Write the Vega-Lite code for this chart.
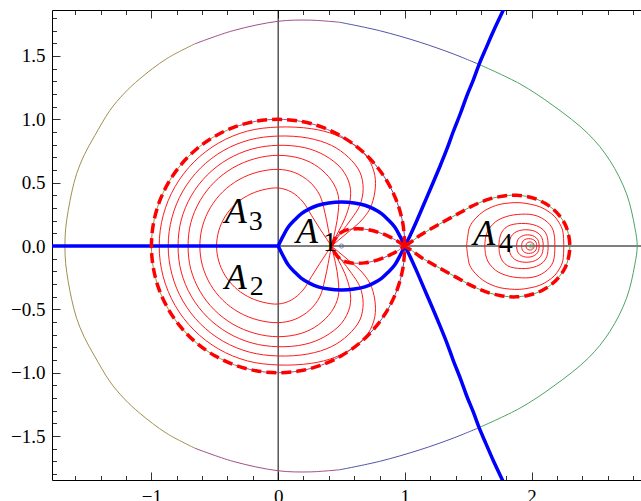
{
  "$schema": "https://vega.github.io/schema/vega-lite/v6.json",
  "width": 589,
  "height": 470,
  "autosize": {"type": "none"},
  "padding": {"left": 52, "top": 10, "right": 0, "bottom": 21},
  "background": "white",
  "config": {"view": {"stroke": null}},
  "datasets": {
    "thin": [
      {"s":"b1","h":"olive","x":-0.657,"y":-1.596},{"s":"b1","h":"olive","x":-0.881,"y":-1.478},{"s":"b1","h":"olive","x":-1.092,"y":-1.32},{"s":"b1","h":"olive","x":-1.22,"y":-1.2},{"s":"b1","h":"olive","x":-1.328,"y":-1.07},{"s":"b1","h":"olive","x":-1.447,"y":-0.872},{"s":"b1","h":"olive","x":-1.53,"y":-0.72},{"s":"b1","h":"olive","x":-1.591,"y":-0.57},{"s":"b1","h":"olive","x":-1.63,"y":-0.42},{"s":"b1","h":"olive","x":-1.657,"y":-0.28},{"s":"b1","h":"olive","x":-1.677,"y":-0.14},{"s":"b1","h":"olive","x":-1.683,"y":0},{"s":"b1","h":"olive","x":-1.677,"y":0.14},{"s":"b1","h":"olive","x":-1.657,"y":0.28},{"s":"b1","h":"olive","x":-1.63,"y":0.42},{"s":"b1","h":"olive","x":-1.591,"y":0.57},{"s":"b1","h":"olive","x":-1.53,"y":0.72},{"s":"b1","h":"olive","x":-1.447,"y":0.872},{"s":"b1","h":"olive","x":-1.328,"y":1.07},{"s":"b1","h":"olive","x":-1.22,"y":1.2},{"s":"b1","h":"olive","x":-1.092,"y":1.32},{"s":"b1","h":"olive","x":-0.881,"y":1.478},{"s":"b1","h":"olive","x":-0.657,"y":1.596},
      {"s":"b2","h":"purple","x":-0.657,"y":1.596},{"s":"b2","h":"purple","x":-0.355,"y":1.7},{"s":"b2","h":"purple","x":0,"y":1.774},{"s":"b2","h":"purple","x":0.25,"y":1.783},{"s":"b2","h":"purple","x":0.487,"y":1.766},
      {"s":"b3","h":"blue","x":0.487,"y":1.766},{"s":"b3","h":"blue","x":0.8,"y":1.7},{"s":"b3","h":"blue","x":1.118,"y":1.609},{"s":"b3","h":"blue","x":1.381,"y":1.517},{"s":"b3","h":"blue","x":1.587,"y":1.433},
      {"s":"b4","h":"green","x":1.587,"y":1.433},{"s":"b4","h":"green","x":1.908,"y":1.28},{"s":"b4","h":"green","x":2.17,"y":1.109},{"s":"b4","h":"green","x":2.447,"y":0.886},{"s":"b4","h":"green","x":2.618,"y":0.675},{"s":"b4","h":"green","x":2.75,"y":0.412},{"s":"b4","h":"green","x":2.815,"y":0.148},{"s":"b4","h":"green","x":2.834,"y":0},{"s":"b4","h":"green","x":2.815,"y":-0.148},{"s":"b4","h":"green","x":2.75,"y":-0.412},{"s":"b4","h":"green","x":2.618,"y":-0.675},{"s":"b4","h":"green","x":2.447,"y":-0.886},{"s":"b4","h":"green","x":2.17,"y":-1.109},{"s":"b4","h":"green","x":1.908,"y":-1.28},{"s":"b4","h":"green","x":1.587,"y":-1.433},
      {"s":"b5","h":"blue","x":1.587,"y":-1.433},{"s":"b5","h":"blue","x":1.381,"y":-1.517},{"s":"b5","h":"blue","x":1.118,"y":-1.609},{"s":"b5","h":"blue","x":0.8,"y":-1.7},{"s":"b5","h":"blue","x":0.487,"y":-1.766},
      {"s":"b6","h":"purple","x":0.487,"y":-1.766},{"s":"b6","h":"purple","x":0.25,"y":-1.783},{"s":"b6","h":"purple","x":0,"y":-1.774},{"s":"b6","h":"purple","x":-0.355,"y":-1.7},{"s":"b6","h":"purple","x":-0.657,"y":-1.596},
      {"s":"u1","h":"blue","x":0.5,"y":-0.866},{"s":"u1","h":"blue","x":0.643,"y":-0.766},{"s":"u1","h":"blue","x":0.766,"y":-0.643},{"s":"u1","h":"blue","x":0.866,"y":-0.5},{"s":"u1","h":"blue","x":0.94,"y":-0.342},{"s":"u1","h":"blue","x":0.985,"y":-0.174},{"s":"u1","h":"blue","x":1,"y":0},{"s":"u1","h":"blue","x":0.985,"y":0.174},{"s":"u1","h":"blue","x":0.94,"y":0.342},{"s":"u1","h":"blue","x":0.866,"y":0.5},{"s":"u1","h":"blue","x":0.766,"y":0.643},{"s":"u1","h":"blue","x":0.643,"y":0.766},{"s":"u1","h":"blue","x":0.5,"y":0.866},
      {"s":"u2","h":"purple","x":0.5,"y":0.866},{"s":"u2","h":"purple","x":0.342,"y":0.94},{"s":"u2","h":"purple","x":0.174,"y":0.985},{"s":"u2","h":"purple","x":0,"y":1},{"s":"u2","h":"purple","x":-0.174,"y":0.985},{"s":"u2","h":"purple","x":-0.342,"y":0.94},
      {"s":"u3","h":"olive","x":-0.342,"y":0.94},{"s":"u3","h":"olive","x":-0.5,"y":0.866},{"s":"u3","h":"olive","x":-0.643,"y":0.766},{"s":"u3","h":"olive","x":-0.766,"y":0.643},{"s":"u3","h":"olive","x":-0.866,"y":0.5},{"s":"u3","h":"olive","x":-0.94,"y":0.342},{"s":"u3","h":"olive","x":-0.985,"y":0.174},{"s":"u3","h":"olive","x":-1,"y":0},{"s":"u3","h":"olive","x":-0.985,"y":-0.174},{"s":"u3","h":"olive","x":-0.94,"y":-0.342},{"s":"u3","h":"olive","x":-0.866,"y":-0.5},{"s":"u3","h":"olive","x":-0.766,"y":-0.643},{"s":"u3","h":"olive","x":-0.643,"y":-0.766},{"s":"u3","h":"olive","x":-0.5,"y":-0.866},{"s":"u3","h":"olive","x":-0.342,"y":-0.94},
      {"s":"u4","h":"purple","x":-0.342,"y":-0.94},{"s":"u4","h":"purple","x":-0.174,"y":-0.985},{"s":"u4","h":"purple","x":0,"y":-1},{"s":"u4","h":"purple","x":0.174,"y":-0.985},{"s":"u4","h":"purple","x":0.342,"y":-0.94},{"s":"u4","h":"purple","x":0.5,"y":-0.866},
      {"s":"l1","h":"green","x":1,"y":0},{"s":"l1","h":"green","x":1.06,"y":0.04},{"s":"l1","h":"green","x":1.118,"y":0.083},{"s":"l1","h":"green","x":1.2,"y":0.132},{"s":"l1","h":"green","x":1.276,"y":0.175},{"s":"l1","h":"green","x":1.36,"y":0.222},{"s":"l1","h":"green","x":1.434,"y":0.262},{"s":"l1","h":"green","x":1.51,"y":0.305},{"s":"l1","h":"green","x":1.592,"y":0.343},{"s":"l1","h":"green","x":1.67,"y":0.372},{"s":"l1","h":"green","x":1.75,"y":0.39},{"s":"l1","h":"green","x":1.82,"y":0.4},{"s":"l1","h":"green","x":1.882,"y":0.401},{"s":"l1","h":"green","x":1.96,"y":0.392},{"s":"l1","h":"green","x":2.04,"y":0.37},{"s":"l1","h":"green","x":2.11,"y":0.335},{"s":"l1","h":"green","x":2.17,"y":0.292},{"s":"l1","h":"green","x":2.22,"y":0.24},{"s":"l1","h":"green","x":2.263,"y":0.175},{"s":"l1","h":"green","x":2.29,"y":0.1},{"s":"l1","h":"green","x":2.302,"y":0},{"s":"l1","h":"green","x":2.29,"y":-0.1},{"s":"l1","h":"green","x":2.263,"y":-0.175},{"s":"l1","h":"green","x":2.22,"y":-0.24},{"s":"l1","h":"green","x":2.17,"y":-0.292},{"s":"l1","h":"green","x":2.11,"y":-0.335},{"s":"l1","h":"green","x":2.04,"y":-0.37},{"s":"l1","h":"green","x":1.96,"y":-0.392},{"s":"l1","h":"green","x":1.882,"y":-0.401},{"s":"l1","h":"green","x":1.82,"y":-0.4},{"s":"l1","h":"green","x":1.75,"y":-0.39},{"s":"l1","h":"green","x":1.67,"y":-0.372},{"s":"l1","h":"green","x":1.592,"y":-0.343},{"s":"l1","h":"green","x":1.51,"y":-0.305},{"s":"l1","h":"green","x":1.434,"y":-0.262},{"s":"l1","h":"green","x":1.36,"y":-0.222},{"s":"l1","h":"green","x":1.276,"y":-0.175},{"s":"l1","h":"green","x":1.2,"y":-0.132},{"s":"l1","h":"green","x":1.118,"y":-0.083},{"s":"l1","h":"green","x":1.06,"y":-0.04},{"s":"l1","h":"green","x":1,"y":0},
      {"s":"l2","h":"purple","x":1,"y":0},{"s":"l2","h":"purple","x":0.94,"y":0.04},{"s":"l2","h":"purple","x":0.88,"y":0.072},{"s":"l2","h":"purple","x":0.82,"y":0.098},{"s":"l2","h":"purple","x":0.75,"y":0.12},{"s":"l2","h":"purple","x":0.684,"y":0.133},{"s":"l2","h":"purple","x":0.62,"y":0.136},{"s":"l2","h":"purple","x":0.566,"y":0.132},{"s":"l2","h":"purple","x":0.52,"y":0.12},{"s":"l2","h":"purple","x":0.487,"y":0.1},{"s":"l2","h":"purple","x":0.46,"y":0.072},{"s":"l2","h":"purple","x":0.44,"y":0.04},{"s":"l2","h":"purple","x":0.425,"y":0},{"s":"l2","h":"purple","x":0.44,"y":-0.04},{"s":"l2","h":"purple","x":0.46,"y":-0.072},{"s":"l2","h":"purple","x":0.487,"y":-0.1},{"s":"l2","h":"purple","x":0.52,"y":-0.12},{"s":"l2","h":"purple","x":0.566,"y":-0.132},{"s":"l2","h":"purple","x":0.62,"y":-0.136},{"s":"l2","h":"purple","x":0.684,"y":-0.133},{"s":"l2","h":"purple","x":0.75,"y":-0.12},{"s":"l2","h":"purple","x":0.82,"y":-0.098},{"s":"l2","h":"purple","x":0.88,"y":-0.072},{"s":"l2","h":"purple","x":0.94,"y":-0.04},{"s":"l2","h":"purple","x":1,"y":0}
    ],
    "dash": [
      {"s":"circ","x":1,"y":0},{"s":"circ","x":0.985,"y":0.174},{"s":"circ","x":0.94,"y":0.342},{"s":"circ","x":0.866,"y":0.5},{"s":"circ","x":0.766,"y":0.643},{"s":"circ","x":0.643,"y":0.766},{"s":"circ","x":0.5,"y":0.866},{"s":"circ","x":0.342,"y":0.94},{"s":"circ","x":0.174,"y":0.985},{"s":"circ","x":0,"y":1},{"s":"circ","x":-0.174,"y":0.985},{"s":"circ","x":-0.342,"y":0.94},{"s":"circ","x":-0.5,"y":0.866},{"s":"circ","x":-0.643,"y":0.766},{"s":"circ","x":-0.766,"y":0.643},{"s":"circ","x":-0.866,"y":0.5},{"s":"circ","x":-0.94,"y":0.342},{"s":"circ","x":-0.985,"y":0.174},{"s":"circ","x":-1,"y":0},{"s":"circ","x":-0.985,"y":-0.174},{"s":"circ","x":-0.94,"y":-0.342},{"s":"circ","x":-0.866,"y":-0.5},{"s":"circ","x":-0.766,"y":-0.643},{"s":"circ","x":-0.643,"y":-0.766},{"s":"circ","x":-0.5,"y":-0.866},{"s":"circ","x":-0.342,"y":-0.94},{"s":"circ","x":-0.174,"y":-0.985},{"s":"circ","x":0,"y":-1},{"s":"circ","x":0.174,"y":-0.985},{"s":"circ","x":0.342,"y":-0.94},{"s":"circ","x":0.5,"y":-0.866},{"s":"circ","x":0.643,"y":-0.766},{"s":"circ","x":0.766,"y":-0.643},{"s":"circ","x":0.866,"y":-0.5},{"s":"circ","x":0.94,"y":-0.342},{"s":"circ","x":0.985,"y":-0.174},{"s":"circ","x":1,"y":0},
      {"s":"lem","x":1,"y":0},{"s":"lem","x":1.06,"y":0.04},{"s":"lem","x":1.118,"y":0.083},{"s":"lem","x":1.2,"y":0.132},{"s":"lem","x":1.276,"y":0.175},{"s":"lem","x":1.36,"y":0.222},{"s":"lem","x":1.434,"y":0.262},{"s":"lem","x":1.51,"y":0.305},{"s":"lem","x":1.592,"y":0.343},{"s":"lem","x":1.67,"y":0.372},{"s":"lem","x":1.75,"y":0.39},{"s":"lem","x":1.82,"y":0.4},{"s":"lem","x":1.882,"y":0.401},{"s":"lem","x":1.96,"y":0.392},{"s":"lem","x":2.04,"y":0.37},{"s":"lem","x":2.11,"y":0.335},{"s":"lem","x":2.17,"y":0.292},{"s":"lem","x":2.22,"y":0.24},{"s":"lem","x":2.263,"y":0.175},{"s":"lem","x":2.29,"y":0.1},{"s":"lem","x":2.302,"y":0},{"s":"lem","x":2.29,"y":-0.1},{"s":"lem","x":2.263,"y":-0.175},{"s":"lem","x":2.22,"y":-0.24},{"s":"lem","x":2.17,"y":-0.292},{"s":"lem","x":2.11,"y":-0.335},{"s":"lem","x":2.04,"y":-0.37},{"s":"lem","x":1.96,"y":-0.392},{"s":"lem","x":1.882,"y":-0.401},{"s":"lem","x":1.82,"y":-0.4},{"s":"lem","x":1.75,"y":-0.39},{"s":"lem","x":1.67,"y":-0.372},{"s":"lem","x":1.592,"y":-0.343},{"s":"lem","x":1.51,"y":-0.305},{"s":"lem","x":1.434,"y":-0.262},{"s":"lem","x":1.36,"y":-0.222},{"s":"lem","x":1.276,"y":-0.175},{"s":"lem","x":1.2,"y":-0.132},{"s":"lem","x":1.118,"y":-0.083},{"s":"lem","x":1.06,"y":-0.04},{"s":"lem","x":1,"y":0},
      {"s":"inner","x":1,"y":0},{"s":"inner","x":0.94,"y":0.04},{"s":"inner","x":0.88,"y":0.072},{"s":"inner","x":0.82,"y":0.098},{"s":"inner","x":0.75,"y":0.12},{"s":"inner","x":0.684,"y":0.133},{"s":"inner","x":0.62,"y":0.136},{"s":"inner","x":0.566,"y":0.132},{"s":"inner","x":0.52,"y":0.12},{"s":"inner","x":0.487,"y":0.1},{"s":"inner","x":0.46,"y":0.072},{"s":"inner","x":0.44,"y":0.04},{"s":"inner","x":0.425,"y":0},{"s":"inner","x":0.44,"y":-0.04},{"s":"inner","x":0.46,"y":-0.072},{"s":"inner","x":0.487,"y":-0.1},{"s":"inner","x":0.52,"y":-0.12},{"s":"inner","x":0.566,"y":-0.132},{"s":"inner","x":0.62,"y":-0.136},{"s":"inner","x":0.684,"y":-0.133},{"s":"inner","x":0.75,"y":-0.12},{"s":"inner","x":0.82,"y":-0.098},{"s":"inner","x":0.88,"y":-0.072},{"s":"inner","x":0.94,"y":-0.04},{"s":"inner","x":1,"y":0}
    ],
    "red": [
      {"s":"k1","x":0.42,"y":0},{"s":"k1","x":0.474,"y":0.044},{"s":"k1","x":0.553,"y":0.11},{"s":"k1","x":0.645,"y":0.189},{"s":"k1","x":0.724,"y":0.294},{"s":"k1","x":0.763,"y":0.426},{"s":"k1","x":0.763,"y":0.558},{"s":"k1","x":0.711,"y":0.689},{"s":"k1","x":0.605,"y":0.794},{"s":"k1","x":0.447,"y":0.879},{"s":"k1","x":0.263,"y":0.926},{"s":"k1","x":0,"y":0.939},{"s":"k1","x":-0.243,"y":0.907},{"s":"k1","x":-0.47,"y":0.813},{"s":"k1","x":-0.664,"y":0.664},{"s":"k1","x":-0.813,"y":0.47},{"s":"k1","x":-0.907,"y":0.243},{"s":"k1","x":-0.939,"y":0},{"s":"k1","x":-0.907,"y":-0.243},{"s":"k1","x":-0.813,"y":-0.47},{"s":"k1","x":-0.664,"y":-0.664},{"s":"k1","x":-0.47,"y":-0.813},{"s":"k1","x":-0.243,"y":-0.907},{"s":"k1","x":0,"y":-0.939},{"s":"k1","x":0.263,"y":-0.926},{"s":"k1","x":0.447,"y":-0.879},{"s":"k1","x":0.605,"y":-0.794},{"s":"k1","x":0.711,"y":-0.689},{"s":"k1","x":0.763,"y":-0.558},{"s":"k1","x":0.763,"y":-0.426},{"s":"k1","x":0.724,"y":-0.294},{"s":"k1","x":0.645,"y":-0.189},{"s":"k1","x":0.553,"y":-0.11},{"s":"k1","x":0.474,"y":-0.044},{"s":"k1","x":0.42,"y":0},
      {"s":"k2","x":0.42,"y":0},{"s":"k2","x":0.447,"y":0.037},{"s":"k2","x":0.5,"y":0.11},{"s":"k2","x":0.579,"y":0.215},{"s":"k2","x":0.645,"y":0.321},{"s":"k2","x":0.671,"y":0.452},{"s":"k2","x":0.645,"y":0.584},{"s":"k2","x":0.553,"y":0.702},{"s":"k2","x":0.421,"y":0.794},{"s":"k2","x":0.237,"y":0.852},{"s":"k2","x":0,"y":0.868},{"s":"k2","x":-0.225,"y":0.838},{"s":"k2","x":-0.434,"y":0.752},{"s":"k2","x":-0.614,"y":0.614},{"s":"k2","x":-0.752,"y":0.434},{"s":"k2","x":-0.838,"y":0.225},{"s":"k2","x":-0.868,"y":0},{"s":"k2","x":-0.838,"y":-0.225},{"s":"k2","x":-0.752,"y":-0.434},{"s":"k2","x":-0.614,"y":-0.614},{"s":"k2","x":-0.434,"y":-0.752},{"s":"k2","x":-0.225,"y":-0.838},{"s":"k2","x":0,"y":-0.868},{"s":"k2","x":0.237,"y":-0.852},{"s":"k2","x":0.421,"y":-0.794},{"s":"k2","x":0.553,"y":-0.702},{"s":"k2","x":0.645,"y":-0.584},{"s":"k2","x":0.671,"y":-0.452},{"s":"k2","x":0.645,"y":-0.321},{"s":"k2","x":0.579,"y":-0.215},{"s":"k2","x":0.5,"y":-0.11},{"s":"k2","x":0.447,"y":-0.037},{"s":"k2","x":0.42,"y":0},
      {"s":"k3","x":0.42,"y":0},{"s":"k3","x":0.474,"y":0.11},{"s":"k3","x":0.526,"y":0.215},{"s":"k3","x":0.566,"y":0.347},{"s":"k3","x":0.566,"y":0.479},{"s":"k3","x":0.5,"y":0.61},{"s":"k3","x":0.368,"y":0.715},{"s":"k3","x":0.211,"y":0.776},{"s":"k3","x":0,"y":0.795},{"s":"k3","x":-0.205,"y":0.766},{"s":"k3","x":-0.396,"y":0.686},{"s":"k3","x":-0.56,"y":0.56},{"s":"k3","x":-0.686,"y":0.396},{"s":"k3","x":-0.765,"y":0.205},{"s":"k3","x":-0.79,"y":0},{"s":"k3","x":-0.765,"y":-0.205},{"s":"k3","x":-0.686,"y":-0.396},{"s":"k3","x":-0.56,"y":-0.56},{"s":"k3","x":-0.396,"y":-0.686},{"s":"k3","x":-0.205,"y":-0.766},{"s":"k3","x":0,"y":-0.795},{"s":"k3","x":0.211,"y":-0.776},{"s":"k3","x":0.368,"y":-0.715},{"s":"k3","x":0.5,"y":-0.61},{"s":"k3","x":0.566,"y":-0.479},{"s":"k3","x":0.566,"y":-0.347},{"s":"k3","x":0.526,"y":-0.215},{"s":"k3","x":0.474,"y":-0.11},{"s":"k3","x":0.42,"y":0},
      {"s":"k4","x":0.42,"y":0},{"s":"k4","x":0.453,"y":0.137},{"s":"k4","x":0.474,"y":0.268},{"s":"k4","x":0.474,"y":0.4},{"s":"k4","x":0.421,"y":0.518},{"s":"k4","x":0.316,"y":0.623},{"s":"k4","x":0.184,"y":0.689},{"s":"k4","x":0,"y":0.716},{"s":"k4","x":-0.185,"y":0.689},{"s":"k4","x":-0.357,"y":0.617},{"s":"k4","x":-0.504,"y":0.504},{"s":"k4","x":-0.617,"y":0.357},{"s":"k4","x":-0.689,"y":0.185},{"s":"k4","x":-0.711,"y":0},{"s":"k4","x":-0.689,"y":-0.185},{"s":"k4","x":-0.617,"y":-0.357},{"s":"k4","x":-0.504,"y":-0.504},{"s":"k4","x":-0.357,"y":-0.617},{"s":"k4","x":-0.185,"y":-0.689},{"s":"k4","x":0,"y":-0.716},{"s":"k4","x":0.184,"y":-0.689},{"s":"k4","x":0.316,"y":-0.623},{"s":"k4","x":0.421,"y":-0.518},{"s":"k4","x":0.474,"y":-0.4},{"s":"k4","x":0.474,"y":-0.268},{"s":"k4","x":0.453,"y":-0.137},{"s":"k4","x":0.42,"y":0},
      {"s":"k5","x":0.42,"y":0},{"s":"k5","x":0.395,"y":0.137},{"s":"k5","x":0.368,"y":0.268},{"s":"k5","x":0.329,"y":0.4},{"s":"k5","x":0.25,"y":0.505},{"s":"k5","x":0.132,"y":0.579},{"s":"k5","x":0,"y":0.605},{"s":"k5","x":-0.16,"y":0.584},{"s":"k5","x":-0.309,"y":0.524},{"s":"k5","x":-0.437,"y":0.428},{"s":"k5","x":-0.535,"y":0.303},{"s":"k5","x":-0.597,"y":0.157},{"s":"k5","x":-0.618,"y":0},{"s":"k5","x":-0.597,"y":-0.157},{"s":"k5","x":-0.535,"y":-0.303},{"s":"k5","x":-0.437,"y":-0.428},{"s":"k5","x":-0.309,"y":-0.524},{"s":"k5","x":-0.16,"y":-0.584},{"s":"k5","x":0,"y":-0.605},{"s":"k5","x":0.132,"y":-0.579},{"s":"k5","x":0.25,"y":-0.505},{"s":"k5","x":0.329,"y":-0.4},{"s":"k5","x":0.368,"y":-0.268},{"s":"k5","x":0.395,"y":-0.137},{"s":"k5","x":0.42,"y":0},
      {"s":"k6","x":0.42,"y":0},{"s":"k6","x":0.382,"y":0.057},{"s":"k6","x":0.329,"y":0.137},{"s":"k6","x":0.263,"y":0.242},{"s":"k6","x":0.197,"y":0.347},{"s":"k6","x":0.105,"y":0.426},{"s":"k6","x":0,"y":0.458},{"s":"k6","x":-0.126,"y":0.442},{"s":"k6","x":-0.243,"y":0.397},{"s":"k6","x":-0.344,"y":0.324},{"s":"k6","x":-0.421,"y":0.229},{"s":"k6","x":-0.469,"y":0.119},{"s":"k6","x":-0.486,"y":0},{"s":"k6","x":-0.469,"y":-0.119},{"s":"k6","x":-0.421,"y":-0.229},{"s":"k6","x":-0.344,"y":-0.324},{"s":"k6","x":-0.243,"y":-0.397},{"s":"k6","x":-0.126,"y":-0.442},{"s":"k6","x":0,"y":-0.458},{"s":"k6","x":0.105,"y":-0.426},{"s":"k6","x":0.197,"y":-0.347},{"s":"k6","x":0.263,"y":-0.242},{"s":"k6","x":0.329,"y":-0.137},{"s":"k6","x":0.382,"y":-0.057},{"s":"k6","x":0.42,"y":0},
      {"s":"m1","x":1.487,"y":0},{"s":"m1","x":1.497,"y":0.08},{"s":"m1","x":1.512,"y":0.152},{"s":"m1","x":1.56,"y":0.22},{"s":"m1","x":1.618,"y":0.271},{"s":"m1","x":1.68,"y":0.305},{"s":"m1","x":1.75,"y":0.329},{"s":"m1","x":1.83,"y":0.34},{"s":"m1","x":1.908,"y":0.342},{"s":"m1","x":1.99,"y":0.33},{"s":"m1","x":2.065,"y":0.31},{"s":"m1","x":2.13,"y":0.275},{"s":"m1","x":2.184,"y":0.231},{"s":"m1","x":2.22,"y":0.18},{"s":"m1","x":2.245,"y":0.126},{"s":"m1","x":2.253,"y":0.06},{"s":"m1","x":2.255,"y":0},{"s":"m1","x":2.253,"y":-0.06},{"s":"m1","x":2.245,"y":-0.126},{"s":"m1","x":2.22,"y":-0.18},{"s":"m1","x":2.184,"y":-0.231},{"s":"m1","x":2.13,"y":-0.275},{"s":"m1","x":2.065,"y":-0.31},{"s":"m1","x":1.99,"y":-0.33},{"s":"m1","x":1.908,"y":-0.342},{"s":"m1","x":1.83,"y":-0.34},{"s":"m1","x":1.75,"y":-0.329},{"s":"m1","x":1.68,"y":-0.305},{"s":"m1","x":1.618,"y":-0.271},{"s":"m1","x":1.56,"y":-0.22},{"s":"m1","x":1.512,"y":-0.152},{"s":"m1","x":1.497,"y":-0.08},{"s":"m1","x":1.487,"y":0},
      {"s":"m2","x":1.631,"y":0},{"s":"m2","x":1.638,"y":0.07},{"s":"m2","x":1.658,"y":0.126},{"s":"m2","x":1.695,"y":0.172},{"s":"m2","x":1.736,"y":0.205},{"s":"m2","x":1.8,"y":0.232},{"s":"m2","x":1.855,"y":0.245},{"s":"m2","x":1.92,"y":0.251},{"s":"m2","x":1.987,"y":0.25},{"s":"m2","x":2.05,"y":0.235},{"s":"m2","x":2.105,"y":0.205},{"s":"m2","x":2.145,"y":0.168},{"s":"m2","x":2.17,"y":0.126},{"s":"m2","x":2.182,"y":0.065},{"s":"m2","x":2.184,"y":0},{"s":"m2","x":2.182,"y":-0.065},{"s":"m2","x":2.17,"y":-0.126},{"s":"m2","x":2.145,"y":-0.168},{"s":"m2","x":2.105,"y":-0.205},{"s":"m2","x":2.05,"y":-0.235},{"s":"m2","x":1.987,"y":-0.25},{"s":"m2","x":1.92,"y":-0.251},{"s":"m2","x":1.855,"y":-0.245},{"s":"m2","x":1.8,"y":-0.232},{"s":"m2","x":1.736,"y":-0.205},{"s":"m2","x":1.695,"y":-0.172},{"s":"m2","x":1.658,"y":-0.126},{"s":"m2","x":1.638,"y":-0.07},{"s":"m2","x":1.631,"y":0},
      {"s":"m3","x":1.742,"y":0},{"s":"m3","x":1.75,"y":0.07},{"s":"m3","x":1.772,"y":0.12},{"s":"m3","x":1.81,"y":0.155},{"s":"m3","x":1.86,"y":0.172},{"s":"m3","x":1.92,"y":0.178},{"s":"m3","x":1.98,"y":0.175},{"s":"m3","x":2.04,"y":0.16},{"s":"m3","x":2.09,"y":0.13},{"s":"m3","x":2.12,"y":0.085},{"s":"m3","x":2.131,"y":0},{"s":"m3","x":2.12,"y":-0.085},{"s":"m3","x":2.09,"y":-0.13},{"s":"m3","x":2.04,"y":-0.16},{"s":"m3","x":1.98,"y":-0.175},{"s":"m3","x":1.92,"y":-0.178},{"s":"m3","x":1.86,"y":-0.172},{"s":"m3","x":1.81,"y":-0.155},{"s":"m3","x":1.772,"y":-0.12},{"s":"m3","x":1.75,"y":-0.07},{"s":"m3","x":1.742,"y":0},
      {"s":"m4","x":1.823,"y":0},{"s":"m4","x":1.83,"y":0.055},{"s":"m4","x":1.85,"y":0.09},{"s":"m4","x":1.885,"y":0.115},{"s":"m4","x":1.93,"y":0.127},{"s":"m4","x":1.98,"y":0.127},{"s":"m4","x":2.03,"y":0.115},{"s":"m4","x":2.07,"y":0.085},{"s":"m4","x":2.088,"y":0.045},{"s":"m4","x":2.092,"y":0},{"s":"m4","x":2.088,"y":-0.045},{"s":"m4","x":2.07,"y":-0.085},{"s":"m4","x":2.03,"y":-0.115},{"s":"m4","x":1.98,"y":-0.127},{"s":"m4","x":1.93,"y":-0.127},{"s":"m4","x":1.885,"y":-0.115},{"s":"m4","x":1.85,"y":-0.09},{"s":"m4","x":1.83,"y":-0.055},{"s":"m4","x":1.823,"y":0},
      {"s":"m5","x":1.882,"y":0},{"s":"m5","x":1.888,"y":0.04},{"s":"m5","x":1.905,"y":0.066},{"s":"m5","x":1.935,"y":0.083},{"s":"m5","x":1.97,"y":0.088},{"s":"m5","x":2.005,"y":0.083},{"s":"m5","x":2.037,"y":0.065},{"s":"m5","x":2.055,"y":0.037},{"s":"m5","x":2.06,"y":0},{"s":"m5","x":2.055,"y":-0.037},{"s":"m5","x":2.037,"y":-0.065},{"s":"m5","x":2.005,"y":-0.083},{"s":"m5","x":1.97,"y":-0.088},{"s":"m5","x":1.935,"y":-0.083},{"s":"m5","x":1.905,"y":-0.066},{"s":"m5","x":1.888,"y":-0.04},{"s":"m5","x":1.882,"y":0},
      {"s":"m6","x":1.921,"y":0},{"s":"m6","x":1.927,"y":0.03},{"s":"m6","x":1.945,"y":0.05},{"s":"m6","x":1.975,"y":0.058},{"s":"m6","x":2.005,"y":0.054},{"s":"m6","x":2.028,"y":0.04},{"s":"m6","x":2.039,"y":0.02},{"s":"m6","x":2.04,"y":0},{"s":"m6","x":2.039,"y":-0.02},{"s":"m6","x":2.028,"y":-0.04},{"s":"m6","x":2.005,"y":-0.054},{"s":"m6","x":1.975,"y":-0.058},{"s":"m6","x":1.945,"y":-0.05},{"s":"m6","x":1.927,"y":-0.03},{"s":"m6","x":1.921,"y":0},
      {"s":"m7","x":1.955,"y":0},{"s":"m7","x":1.962,"y":0.02},{"s":"m7","x":1.98,"y":0.031},{"s":"m7","x":2,"y":0.03},{"s":"m7","x":2.015,"y":0.018},{"s":"m7","x":2.02,"y":0},{"s":"m7","x":2.015,"y":-0.018},{"s":"m7","x":2,"y":-0.03},{"s":"m7","x":1.98,"y":-0.031},{"s":"m7","x":1.962,"y":-0.02},{"s":"m7","x":1.955,"y":0}
    ],
    "blue": [
      {"s":"neg","x":-1.85,"y":0},{"s":"neg","x":0,"y":0},
      {"s":"lensU","x":0,"y":0},{"s":"lensU","x":0.04,"y":0.08},{"s":"lensU","x":0.08,"y":0.15},{"s":"lensU","x":0.13,"y":0.205},{"s":"lensU","x":0.184,"y":0.255},{"s":"lensU","x":0.25,"y":0.295},{"s":"lensU","x":0.316,"y":0.322},{"s":"lensU","x":0.4,"y":0.34},{"s":"lensU","x":0.5,"y":0.347},{"s":"lensU","x":0.6,"y":0.34},{"s":"lensU","x":0.684,"y":0.322},{"s":"lensU","x":0.75,"y":0.295},{"s":"lensU","x":0.816,"y":0.255},{"s":"lensU","x":0.87,"y":0.205},{"s":"lensU","x":0.92,"y":0.15},{"s":"lensU","x":0.96,"y":0.08},{"s":"lensU","x":1,"y":0},
      {"s":"lensL","x":0,"y":0},{"s":"lensL","x":0.04,"y":-0.08},{"s":"lensL","x":0.08,"y":-0.15},{"s":"lensL","x":0.13,"y":-0.205},{"s":"lensL","x":0.184,"y":-0.255},{"s":"lensL","x":0.25,"y":-0.295},{"s":"lensL","x":0.316,"y":-0.322},{"s":"lensL","x":0.4,"y":-0.34},{"s":"lensL","x":0.5,"y":-0.347},{"s":"lensL","x":0.6,"y":-0.34},{"s":"lensL","x":0.684,"y":-0.322},{"s":"lensL","x":0.75,"y":-0.295},{"s":"lensL","x":0.816,"y":-0.255},{"s":"lensL","x":0.87,"y":-0.205},{"s":"lensL","x":0.92,"y":-0.15},{"s":"lensL","x":0.96,"y":-0.08},{"s":"lensL","x":1,"y":0},
      {"s":"up","x":1,"y":0},{"s":"up","x":1.04,"y":0.08},{"s":"up","x":1.09,"y":0.19},{"s":"up","x":1.15,"y":0.33},{"s":"up","x":1.21,"y":0.47},{"s":"up","x":1.276,"y":0.626},{"s":"up","x":1.33,"y":0.76},{"s":"up","x":1.381,"y":0.9},{"s":"up","x":1.44,"y":1.05},{"s":"up","x":1.487,"y":1.18},{"s":"up","x":1.54,"y":1.31},{"s":"up","x":1.587,"y":1.436},{"s":"up","x":1.64,"y":1.56},{"s":"up","x":1.697,"y":1.691},{"s":"up","x":1.784,"y":1.876},{"s":"up","x":1.8,"y":1.91},
      {"s":"dn","x":1,"y":0},{"s":"dn","x":1.04,"y":-0.08},{"s":"dn","x":1.09,"y":-0.19},{"s":"dn","x":1.15,"y":-0.33},{"s":"dn","x":1.21,"y":-0.47},{"s":"dn","x":1.276,"y":-0.626},{"s":"dn","x":1.33,"y":-0.76},{"s":"dn","x":1.381,"y":-0.9},{"s":"dn","x":1.44,"y":-1.05},{"s":"dn","x":1.487,"y":-1.18},{"s":"dn","x":1.54,"y":-1.31},{"s":"dn","x":1.587,"y":-1.436},{"s":"dn","x":1.64,"y":-1.56},{"s":"dn","x":1.697,"y":-1.691},{"s":"dn","x":1.784,"y":-1.876},{"s":"dn","x":1.8,"y":-1.91}
    ],
    "dots": [
      {"h":"blue","x":0.5,"y":0},
      {"h":"green","x":2,"y":0}
    ],
    "labels": [
      {"k":"A","t":"A","x":-0.421,"y":0.179},
      {"k":"sub","t":"3","x":-0.233,"y":0.126},
      {"k":"A","t":"A","x":-0.421,"y":-0.342},
      {"k":"sub","t":"2","x":-0.225,"y":-0.387},
      {"k":"A","t":"A","x":0.14,"y":0.021},
      {"k":"sub","t":"1","x":0.355,"y":-0.037},
      {"k":"A","t":"A","x":1.539,"y":0.008},
      {"k":"sub","t":"4","x":1.742,"y":-0.045}
    ]
  },
  "resolve": {"axis": {"x": "independent", "y": "independent"}},
  "layer": [
    {
      "data": {"values": [{}]},
      "mark": {"type": "rule", "color": "black", "strokeWidth": 1},
      "encoding": {
        "y": {
          "datum": 0, "type": "quantitative",
          "scale": {"domain": [-1.847, 1.863], "nice": false, "zero": false},
          "axis": {
            "orient": "left", "title": null, "grid": false,
            "values": [-1.8,-1.7,-1.6,-1.5,-1.4,-1.3,-1.2,-1.1,-1,-0.9,-0.8,-0.7,-0.6,-0.5,-0.4,-0.3,-0.2,-0.1,0,0.1,0.2,0.3,0.4,0.5,0.6,0.7,0.8,0.9,1,1.1,1.2,1.3,1.4,1.5,1.6,1.7,1.8],
            "domain": true, "domainColor": "black", "domainWidth": 1,
            "tickColor": "#333333", "tickWidth": 1,
            "tickSize": {"condition": {"test": "abs(datum.value * 2 - round(datum.value * 2)) < 0.001", "value": -8}, "value": -4.5},
            "labelExpr": "abs(datum.value * 2 - round(datum.value * 2)) < 0.001 ? format(datum.value, '.1f') : ''",
            "labelFont": "Liberation Serif", "labelFontSize": 19, "labelColor": "black",
            "labelPadding": 15, "labelOverlap": false, "labelBound": false, "labelFlush": false
          }
        }
      }
    },
    {
      "data": {"values": [{}]},
      "mark": {"type": "rule", "color": "black", "strokeWidth": 1},
      "encoding": {
        "x": {
          "datum": 0, "type": "quantitative",
          "scale": {"domain": [-1.785, 2.864], "nice": false, "zero": false},
          "axis": {
            "orient": "bottom", "title": null, "grid": false,
            "values": [-1.6,-1.4,-1.2,-1,-0.8,-0.6,-0.4,-0.2,0,0.2,0.4,0.6,0.8,1,1.2,1.4,1.6,1.8,2,2.2,2.4,2.6,2.8],
            "domain": true, "domainColor": "black", "domainWidth": 1,
            "tickColor": "#333333", "tickWidth": 1,
            "tickSize": {"condition": {"test": "abs(datum.value - round(datum.value)) < 0.001", "value": -8}, "value": -4.5},
            "labelExpr": "abs(datum.value - round(datum.value)) < 0.001 ? format(datum.value, 'd') : ''",
            "labelFont": "Liberation Serif", "labelFontSize": 19, "labelColor": "black",
            "labelPadding": 15, "labelOverlap": false, "labelBound": false, "labelFlush": false
          }
        }
      }
    },
    {
      "data": {"name": "thin"},
      "mark": {"type": "line", "strokeWidth": 1, "interpolate": "catmull-rom", "clip": true},
      "encoding": {
        "x": {"field": "x", "type": "quantitative", "scale": {"domain": [-1.785, 2.864], "nice": false, "zero": false}, "axis": null},
        "y": {"field": "y", "type": "quantitative", "scale": {"domain": [-1.847, 1.863], "nice": false, "zero": false}, "axis": null},
        "detail": {"field": "s"},
        "color": {"field": "h", "type": "nominal", "scale": {"domain": ["olive", "purple", "blue", "green"], "range": ["#a09050", "#a0508c", "#5454a8", "#4ca462"]}, "legend": null},
        "order": {"value": null}
      }
    },
    {
      "data": {"name": "red"},
      "mark": {"type": "line", "strokeWidth": 1, "color": "#ff1a1a", "interpolate": "catmull-rom", "clip": true},
      "encoding": {
        "x": {"field": "x", "type": "quantitative", "scale": {"domain": [-1.785, 2.864], "nice": false, "zero": false}, "axis": null},
        "y": {"field": "y", "type": "quantitative", "scale": {"domain": [-1.847, 1.863], "nice": false, "zero": false}, "axis": null},
        "detail": {"field": "s"},
        "order": {"value": null}
      }
    },
    {
      "data": {"name": "blue"},
      "mark": {"type": "line", "strokeWidth": 3.5, "color": "#0000ff", "interpolate": "catmull-rom", "clip": true},
      "encoding": {
        "x": {
          "field": "x", "type": "quantitative",
          "scale": {"domain": [-1.785, 2.864], "nice": false, "zero": false},
          "axis": {
            "orient": "top", "title": null, "grid": false, "labels": false,
            "values": [-1.6,-1.4,-1.2,-1,-0.8,-0.6,-0.4,-0.2,0,0.2,0.4,0.6,0.8,1,1.2,1.4,1.6,1.8,2,2.2,2.4,2.6,2.8],
            "domain": true, "domainColor": "black", "domainWidth": 1,
            "tickColor": "#333333", "tickWidth": 1,
            "tickSize": {"condition": {"test": "abs(datum.value - round(datum.value)) < 0.001", "value": -8}, "value": -4.5}
          }
        },
        "y": {"field": "y", "type": "quantitative", "scale": {"domain": [-1.847, 1.863], "nice": false, "zero": false}, "axis": null},
        "detail": {"field": "s"},
        "order": {"value": null}
      }
    },
    {
      "data": {"name": "dash"},
      "mark": {"type": "line", "strokeWidth": 3.5, "color": "#ff0000", "strokeDash": [10, 5], "interpolate": "catmull-rom", "clip": true},
      "encoding": {
        "x": {"field": "x", "type": "quantitative", "scale": {"domain": [-1.785, 2.864], "nice": false, "zero": false}, "axis": null},
        "y": {"field": "y", "type": "quantitative", "scale": {"domain": [-1.847, 1.863], "nice": false, "zero": false}, "axis": null},
        "detail": {"field": "s"},
        "order": {"value": null}
      }
    },
    {
      "data": {"name": "dots"},
      "mark": {"type": "point", "shape": "circle", "filled": false, "size": 18, "strokeWidth": 1},
      "encoding": {
        "x": {"field": "x", "type": "quantitative", "scale": {"domain": [-1.785, 2.864], "nice": false, "zero": false}, "axis": null},
        "y": {"field": "y", "type": "quantitative", "scale": {"domain": [-1.847, 1.863], "nice": false, "zero": false}, "axis": null},
        "color": {"field": "h", "type": "nominal", "scale": {"domain": ["olive", "purple", "blue", "green"], "range": ["#a09050", "#a0508c", "#5454a8", "#4ca462"]}, "legend": null}
      }
    },
    {
      "data": {"name": "labels"},
      "transform": [{"filter": "datum.k == 'A'"}],
      "mark": {"type": "text", "font": "Liberation Serif", "fontStyle": "italic", "fontSize": 36, "align": "left", "baseline": "alphabetic", "color": "black"},
      "encoding": {
        "x": {"field": "x", "type": "quantitative", "scale": {"domain": [-1.785, 2.864], "nice": false, "zero": false}, "axis": null},
        "y": {"field": "y", "type": "quantitative", "scale": {"domain": [-1.847, 1.863], "nice": false, "zero": false}, "axis": null},
        "text": {"field": "t"}
      }
    },
    {
      "data": {"name": "labels"},
      "transform": [{"filter": "datum.k == 'sub'"}],
      "mark": {"type": "text", "font": "Liberation Serif", "fontSize": 28, "align": "left", "baseline": "alphabetic", "color": "black"},
      "encoding": {
        "x": {"field": "x", "type": "quantitative", "scale": {"domain": [-1.785, 2.864], "nice": false, "zero": false}, "axis": null},
        "y": {"field": "y", "type": "quantitative", "scale": {"domain": [-1.847, 1.863], "nice": false, "zero": false}, "axis": null},
        "text": {"field": "t"}
      }
    }
  ]
}
